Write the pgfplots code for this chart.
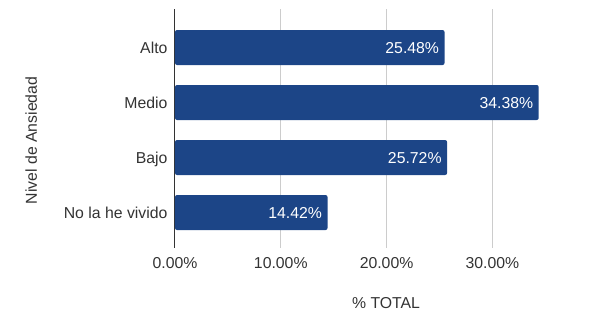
\documentclass[border=0pt]{standalone}
\usepackage{pgfplots}
\pgfplotsset{compat=1.18}
\usepackage{fontspec}
\setmainfont{Liberation Sans}
\definecolor{barblue}{HTML}{1C4587}
\definecolor{txt}{HTML}{333333}
\definecolor{gridc}{HTML}{CCCCCC}
\begin{document}
\begin{tikzpicture}
\useasboundingbox (-175pt,-63pt) rectangle (414pt,248pt);
\begin{axis}[
  at={(0,0)}, anchor=south west,
  scale only axis, width=402pt, height=239pt,
  xbar, bar width=35pt,
  xmin=0, xmax=38, ymin=-0.7, ymax=3.645, y dir=reverse,
  ytick={0,1,2,3}, yticklabels={Alto,Medio,Bajo,No la he vivido},
  xtick={0,10,20,30},
  xticklabel={\pgfmathprintnumber[fixed,precision=2,fixed zerofill,assume math mode=true]{\tick}\%},
  axis x line*=bottom, axis y line*=left,
  x axis line style={draw=none},
  y axis line style={draw=txt, line width=1pt, -},
  major tick length=0pt,
  xmajorgrids, grid style={gridc, line width=1pt},
  ticklabel style={font=\fontsize{15.8}{19}\selectfont, text=txt, text height=11.4pt, text depth=0pt},
  xticklabel style={yshift=-6.0pt},
  yticklabel style={xshift=-4pt},
  xlabel={\% TOTAL}, ylabel={Nivel de Ansiedad},
  label style={font=\fontsize{15.8}{19}\selectfont, text=txt, text height=11.4pt, text depth=0pt, anchor=center},
  xlabel style={at={(axis description cs:0.525,-0.230)}},
  ylabel style={at={(axis description cs:-0.358,0.45)}},
  nodes near coords={\pgfmathprintnumber[fixed,precision=2,fixed zerofill,assume math mode=true]{\pgfplotspointmeta}\%},
  nodes near coords style={anchor=east, xshift=-2pt, text=white, font=\fontsize{15.8}{19}\selectfont, text height=11.4pt, text depth=0pt},
]
\addplot[fill=barblue, draw=none, rounded corners=2pt] coordinates {(25.48,0) (34.38,1) (25.72,2) (14.42,3)};
\end{axis}
\end{tikzpicture}
\end{document}
